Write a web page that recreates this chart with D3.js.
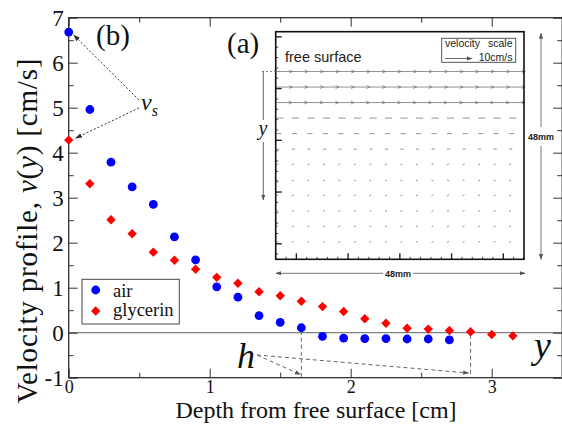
<!DOCTYPE html>
<html>
<head>
<meta charset="utf-8">
<script src="https://cdn.jsdelivr.net/npm/d3@7"></script>
<style>
  html, body { margin: 0; padding: 0; background: #fff; }
  svg { display: block; }
</style>
</head>
<body>
<svg id="chart" width="562" height="424"></svg>
<script>
// ---- Velocity profiles below the free surface ----
const depthAir = [0, 0.15, 0.3, 0.45, 0.6, 0.75, 0.9, 1.05, 1.2, 1.35, 1.5, 1.65, 1.8, 1.95, 2.1, 2.25, 2.4, 2.55, 2.7];
const velocityAir = [6.68, 4.96, 3.79, 3.24, 2.85, 2.13, 1.62, 1.02, 0.79, 0.38, 0.23, 0.11, -0.08, -0.12, -0.13, -0.13, -0.14, -0.14, -0.16];

const depthGlycerin = [0, 0.15, 0.3, 0.45, 0.6, 0.75, 0.9, 1.05, 1.2, 1.35, 1.5, 1.65, 1.8, 1.95, 2.1, 2.25, 2.4, 2.55, 2.7, 2.85, 3.0, 3.15];
const velocityGlycerin = [4.28, 3.31, 2.51, 2.20, 1.79, 1.61, 1.41, 1.23, 1.10, 0.91, 0.82, 0.70, 0.58, 0.47, 0.31, 0.21, 0.10, 0.08, 0.05, 0.02, -0.04, -0.07];

const seriesNames = ["air", "glycerin"];
const xTicks = [0, 1, 2, 3];
const xMinorTicks = [0.5, 1.5, 2.5, 3.5];
const yTicks = [-1, 0, 1, 2, 3, 4, 5, 6, 7];
const yMinorTicks = [-0.5, 0.5, 1.5, 2.5, 3.5, 4.5, 5.5, 6.5];

// depths where each layer's velocity reaches zero (h)
const hDepthAir = 1.65;
const hDepthGlycerin = 2.85;

// ---- PIV velocity field of the air-driven layer (inset) ----
const fieldColumnsMm = [0, 3, 6, 9, 12, 15, 18, 21, 24, 27, 30, 33, 36, 39, 42, 45];
const fieldRowDepthMm = [0, 3, 6, 9, 12, 15, 18, 21, 24, 27, 30, 33];
const fieldRowU = [5.8, 5.7, 5.6, 2.4, 1.6, 0.9, 0.5, 0.45, 0.45, 0.45, 0.45, 0.45];
const fieldRowV = [0, 0, 0, 0, 0, 0, 0.25, -0.2, 0.25, 0.2, 0.25, 0.25];
const freeSurfaceHeightMm = 36.3;
const insetBottomTicksMm = [4, 14, 24, 34, 44];
const insetBottomMinorMm = [0, 2, 6, 8, 10, 12, 16, 18, 20, 22, 26, 28, 30, 32, 36, 38, 40, 42, 46, 48];
const insetLeftTicksMm = [3, 13, 23, 33, 43];
const insetLeftMinorMm = [1, 5, 7, 9, 11, 15, 17, 19, 21, 25, 27, 29, 31, 35, 37, 39, 41];
const scaleArrowSpeed = 10; // cm/s

const W = 562, H = 424;
const serif = "'Liberation Serif','Times New Roman',serif";
const sans = "'Liberation Sans',Arial,sans-serif";

const svg = d3.select("#chart");
svg.append("rect").attr("width", W).attr("height", H).attr("fill", "#fff");

const defs = svg.append("defs");
function marker(id, color, size) {
  defs.append("marker")
    .attr("id", id).attr("viewBox", "0 0 10 10")
    .attr("refX", 9).attr("refY", 5)
    .attr("markerWidth", size).attr("markerHeight", size)
    .attr("markerUnits", "userSpaceOnUse")
    .attr("orient", "auto-start-reverse")
    .append("path").attr("d", "M0,1.5 L10,5 L0,8.5 Z").attr("fill", color);
}
marker("headDark", "#333", 7);
marker("headGray", "#555", 6);

const plot = { left: 68.7, right: 562.2, top: 17.7, bottom: 377.7 };
const x = d3.scaleLinear().domain([0, 3.5]).range([plot.left, plot.right]);
const y = d3.scaleLinear().domain([-1, 7]).range([plot.bottom, plot.top]);

// zero-velocity reference line
svg.append("line")
  .attr("x1", plot.left).attr("x2", plot.right)
  .attr("y1", y(0)).attr("y2", y(0))
  .attr("stroke", "#808080").attr("stroke-width", 1.3);

function styleAxis(g) {
  g.select(".domain").remove();
  g.selectAll(".tick line").attr("stroke", "#333").attr("stroke-width", 1);
  g.selectAll("text").attr("font-family", serif).attr("fill", "#111");
}

// bottom axis with labels
svg.append("g").attr("transform", `translate(0,${plot.bottom})`)
  .call(d3.axisBottom(x).tickValues(xTicks).tickSize(-9).tickPadding(3).tickFormat(d => String(d)))
  .call(styleAxis)
  .selectAll("text").attr("font-size", 18);
svg.append("g").attr("transform", `translate(0,${plot.bottom})`)
  .call(d3.axisBottom(x).tickValues(xMinorTicks).tickSize(-5).tickFormat(""))
  .call(styleAxis);
// top axis, ticks only
svg.append("g").attr("transform", `translate(0,${plot.top})`)
  .call(d3.axisTop(x).tickValues(xTicks).tickSize(-9).tickFormat(""))
  .call(styleAxis);
svg.append("g").attr("transform", `translate(0,${plot.top})`)
  .call(d3.axisTop(x).tickValues(xMinorTicks).tickSize(-5).tickFormat(""))
  .call(styleAxis);
// left axis with labels
svg.append("g").attr("transform", `translate(${plot.left},0)`)
  .call(d3.axisLeft(y).tickValues(yTicks).tickSize(-9).tickPadding(5).tickFormat(d => String(d)))
  .call(styleAxis)
  .selectAll("text").attr("font-size", 23);
svg.append("g").attr("transform", `translate(${plot.left},0)`)
  .call(d3.axisLeft(y).tickValues(yMinorTicks).tickSize(-5).tickFormat(""))
  .call(styleAxis);
// right axis, ticks only
svg.append("g").attr("transform", `translate(${plot.right},0)`)
  .call(d3.axisRight(y).tickValues(yTicks).tickSize(-9).tickFormat(""))
  .call(styleAxis);
svg.append("g").attr("transform", `translate(${plot.right},0)`)
  .call(d3.axisRight(y).tickValues(yMinorTicks).tickSize(-5).tickFormat(""))
  .call(styleAxis);

// plot frame
svg.append("rect")
  .attr("x", plot.left).attr("y", plot.top)
  .attr("width", plot.right - plot.left).attr("height", plot.bottom - plot.top)
  .attr("fill", "none").attr("stroke", "#222").attr("stroke-width", 1.2);

// axis titles
svg.append("text")
  .attr("x", 316).attr("y", 417.5)
  .attr("text-anchor", "middle")
  .attr("font-family", serif).attr("font-size", 24).attr("fill", "#111")
  .text("Depth from free surface [cm]");

const yTitle = svg.append("text")
  .attr("transform", "translate(37,231) rotate(-90)")
  .attr("text-anchor", "middle")
  .attr("font-family", serif).attr("font-size", 29).attr("fill", "#111")
  .attr("textLength", 345).attr("lengthAdjust", "spacing");
yTitle.append("tspan").text("Velocity profile, ");
yTitle.append("tspan").attr("font-style", "italic").text("v");
yTitle.append("tspan").text("(");
yTitle.append("tspan").attr("font-style", "italic").text("y");
yTitle.append("tspan").text(") [cm/s]");

// ---- inset: velocity field ----
const inset = { left: 275.7, right: 524.0, top: 31.7, bottom: 259.3 };
const ix = d3.scaleLinear().domain([0, 48]).range([inset.left, inset.right]);
const iy = d3.scaleLinear().domain([0, 44]).range([inset.bottom, inset.top]);
const speedPx = d3.scaleLinear().domain([0, 10]).range([0, 27]);

svg.append("rect")
  .attr("x", inset.left).attr("y", inset.top)
  .attr("width", inset.right - inset.left).attr("height", inset.bottom - inset.top)
  .attr("fill", "#fff");

const field = svg.append("g").attr("stroke", "#777").attr("fill", "none").attr("stroke-width", 0.8);
fieldRowDepthMm.forEach((depth, r) => {
  const yy = iy(freeSurfaceHeightMm - depth);
  const u = speedPx(fieldRowU[r]);
  const v = speedPx(fieldRowV[r]);
  fieldColumnsMm.forEach(col => {
    const x0 = ix(col) + 1, y0 = yy;
    const x1 = x0 + u, y1 = y0 - v;
    const len = Math.hypot(x1 - x0, y1 - y0);
    let d = `M${x0},${y0}L${x1},${y1}`;
    if (len > 10) {
      const a = Math.atan2(y1 - y0, x1 - x0);
      const hs = 3;
      d += `M${x1 - hs * Math.cos(a - 0.45)},${y1 - hs * Math.sin(a - 0.45)}L${x1},${y1}` +
           `L${x1 - hs * Math.cos(a + 0.45)},${y1 - hs * Math.sin(a + 0.45)}`;
    }
    field.append("path").attr("d", d).attr("stroke-linecap", "round");
  });
});

// inset frame ticks
const insetTicks = svg.append("g").attr("stroke", "#222");
insetBottomTicksMm.forEach(t => insetTicks.append("line")
  .attr("x1", ix(t)).attr("x2", ix(t)).attr("y1", inset.bottom).attr("y2", inset.bottom - 6).attr("stroke-width", 1.4));
insetBottomMinorMm.forEach(t => insetTicks.append("line")
  .attr("x1", ix(t)).attr("x2", ix(t)).attr("y1", inset.bottom).attr("y2", inset.bottom - 2.5).attr("stroke-width", 0.8));
insetLeftTicksMm.forEach(t => insetTicks.append("line")
  .attr("x1", inset.left).attr("x2", inset.left + 6).attr("y1", iy(t)).attr("y2", iy(t)).attr("stroke-width", 1.4));
insetLeftMinorMm.forEach(t => insetTicks.append("line")
  .attr("x1", inset.left).attr("x2", inset.left + 2.5).attr("y1", iy(t)).attr("y2", iy(t)).attr("stroke-width", 0.8));

svg.append("rect")
  .attr("x", inset.left).attr("y", inset.top)
  .attr("width", inset.right - inset.left).attr("height", inset.bottom - inset.top)
  .attr("fill", "none").attr("stroke", "#111").attr("stroke-width", 1.6);

svg.append("text")
  .attr("x", 285).attr("y", 62)
  .attr("font-family", sans).attr("font-size", 14.5).attr("fill", "#222")
  .text("free surface");

// velocity scale box
svg.append("rect")
  .attr("x", 441.7).attr("y", 38.3).attr("width", 74).attr("height", 24)
  .attr("fill", "#fff").attr("stroke", "#444").attr("stroke-width", 0.9);
svg.append("text").attr("x", 445).attr("y", 47)
  .attr("font-family", sans).attr("font-size", 10.5).attr("fill", "#222").text("velocity");
svg.append("text").attr("x", 512.5).attr("y", 47).attr("text-anchor", "end")
  .attr("font-family", sans).attr("font-size", 10.5).attr("fill", "#222").text("scale");
svg.append("line")
  .attr("x1", 445).attr("x2", 445 + speedPx(scaleArrowSpeed)).attr("y1", 58.5).attr("y2", 58.5)
  .attr("stroke", "#444").attr("stroke-width", 0.8).attr("marker-end", "url(#headGray)");
svg.append("text").attr("x", 512.5).attr("y", 60.5).attr("text-anchor", "end")
  .attr("font-family", sans).attr("font-size", 10.5).attr("fill", "#222").text("10cm/s");

// free-surface marker and depth axis on the left of the inset
const ySurf = iy(freeSurfaceHeightMm);
svg.append("line")
  .attr("x1", 262).attr("x2", inset.left).attr("y1", ySurf).attr("y2", ySurf)
  .attr("stroke", "#777").attr("stroke-width", 0.9).attr("stroke-dasharray", "2,2");
svg.append("line")
  .attr("x1", 263.3).attr("x2", 263.3).attr("y1", ySurf).attr("y2", 120)
  .attr("stroke", "#555").attr("stroke-width", 0.9);
svg.append("line")
  .attr("x1", 263.3).attr("x2", 263.3).attr("y1", 142).attr("y2", 200)
  .attr("stroke", "#555").attr("stroke-width", 0.9).attr("marker-end", "url(#headGray)");
svg.append("text").attr("x", 263).attr("y", 135).attr("text-anchor", "middle")
  .attr("font-family", serif).attr("font-style", "italic").attr("font-size", 20).attr("fill", "#111").text("y");

// 48 mm dimension arrows
svg.append("line").attr("x1", 541).attr("x2", 541).attr("y1", 127).attr("y2", 33.3)
  .attr("stroke", "#666").attr("stroke-width", 0.9).attr("marker-end", "url(#headGray)");
svg.append("line").attr("x1", 541).attr("x2", 541).attr("y1", 146).attr("y2", 259.3)
  .attr("stroke", "#666").attr("stroke-width", 0.9).attr("marker-end", "url(#headGray)");
svg.append("text").attr("x", 541).attr("y", 140).attr("text-anchor", "middle")
  .attr("font-family", sans).attr("font-weight", "bold").attr("font-size", 9).attr("fill", "#222").text("48mm");
svg.append("line").attr("x1", 383).attr("x2", 276).attr("y1", 273.3).attr("y2", 273.3)
  .attr("stroke", "#666").attr("stroke-width", 0.9).attr("marker-end", "url(#headGray)");
svg.append("line").attr("x1", 413).attr("x2", 525).attr("y1", 273.3).attr("y2", 273.3)
  .attr("stroke", "#666").attr("stroke-width", 0.9).attr("marker-end", "url(#headGray)");
svg.append("text").attr("x", 398).attr("y", 276.5).attr("text-anchor", "middle")
  .attr("font-family", sans).attr("font-weight", "bold").attr("font-size", 9).attr("fill", "#222").text("48mm");

svg.append("text").attr("x", 227).attr("y", 53)
  .attr("font-family", serif).attr("font-size", 29).attr("fill", "#111").text("(a)");

// ---- h : thickness of the moving layer ----
const airAtH = velocityAir[depthAir.indexOf(hDepthAir)];
const glyAtH = velocityGlycerin[depthGlycerin.indexOf(hDepthGlycerin)];
[[hDepthAir, airAtH], [hDepthGlycerin, glyAtH]].forEach(([d, v]) => {
  svg.append("line")
    .attr("x1", x(d)).attr("x2", x(d)).attr("y1", y(v) + 3).attr("y2", plot.bottom)
    .attr("stroke", "#666").attr("stroke-width", 1).attr("stroke-dasharray", "4,3");
});
svg.append("line").attr("x1", 257).attr("y1", 355).attr("x2", x(hDepthAir) - 1).attr("y2", 374.5)
  .attr("stroke", "#666").attr("stroke-width", 1).attr("stroke-dasharray", "4,3").attr("marker-end", "url(#headGray)");
svg.append("line").attr("x1", 257).attr("y1", 355).attr("x2", x(hDepthGlycerin) - 2).attr("y2", 373)
  .attr("stroke", "#666").attr("stroke-width", 1).attr("stroke-dasharray", "4,3").attr("marker-end", "url(#headGray)");
svg.append("text").attr("x", 237).attr("y", 368)
  .attr("font-family", serif).attr("font-style", "italic").attr("font-size", 36).attr("fill", "#111").text("h");

svg.append("text").attr("x", 534).attr("y", 358)
  .attr("font-family", serif).attr("font-style", "italic").attr("font-size", 38).attr("fill", "#111").text("y");

// ---- data points ----
const airPts = depthAir.map((d, i) => [d, velocityAir[i]]);
const glyPts = depthGlycerin.map((d, i) => [d, velocityGlycerin[i]]);
const diamond = d3.symbol().type(d3.symbolSquare).size(44);

svg.append("g").selectAll("path").data(glyPts).join("path")
  .attr("d", diamond)
  .attr("transform", d => `translate(${x(d[0])},${y(d[1])}) rotate(45)`)
  .attr("fill", "#ff0000");
svg.append("g").selectAll("circle").data(airPts).join("circle")
  .attr("cx", d => x(d[0])).attr("cy", d => y(d[1])).attr("r", 4.4)
  .attr("fill", "#0000ff");

// ---- surface velocity annotation ----
svg.append("text").attr("x", 96).attr("y", 45)
  .attr("font-family", serif).attr("font-size", 29).attr("fill", "#111").text("(b)");
const vs = svg.append("text").attr("x", 141).attr("y", 110)
  .attr("font-family", serif).attr("font-style", "italic").attr("font-size", 24).attr("fill", "#111");
vs.append("tspan").text("v");
vs.append("tspan").attr("font-size", 16).attr("dy", 6).text("s");
svg.append("line").attr("x1", 139).attr("y1", 100).attr("x2", x(0) + 5).attr("y2", y(velocityAir[0]) + 3)
  .attr("stroke", "#333").attr("stroke-width", 1).attr("stroke-dasharray", "2,2").attr("marker-end", "url(#headDark)");
svg.append("line").attr("x1", 139).attr("y1", 108).attr("x2", x(0) + 7).attr("y2", y(velocityGlycerin[0]) - 2)
  .attr("stroke", "#333").attr("stroke-width", 1).attr("stroke-dasharray", "2,2").attr("marker-end", "url(#headDark)");

// ---- legend ----
const legend = svg.append("g");
legend.append("rect").attr("x", 82).attr("y", 279.3).attr("width", 97.3).attr("height", 44.7)
  .attr("fill", "#fff").attr("stroke", "#444").attr("stroke-width", 1);
legend.append("circle").attr("cx", 95.7).attr("cy", 290).attr("r", 4.4).attr("fill", "#0000ff");
legend.append("path").attr("d", diamond).attr("transform", "translate(95.7,311) rotate(45)").attr("fill", "#ff0000");
legend.selectAll("text.lab").data(seriesNames).join("text")
  .attr("class", "lab")
  .attr("x", 113).attr("y", (d, i) => 297 + i * 19)
  .attr("font-family", serif).attr("font-size", 18.5).attr("fill", "#111")
  .text(d => d);
</script>
</body>
</html>
